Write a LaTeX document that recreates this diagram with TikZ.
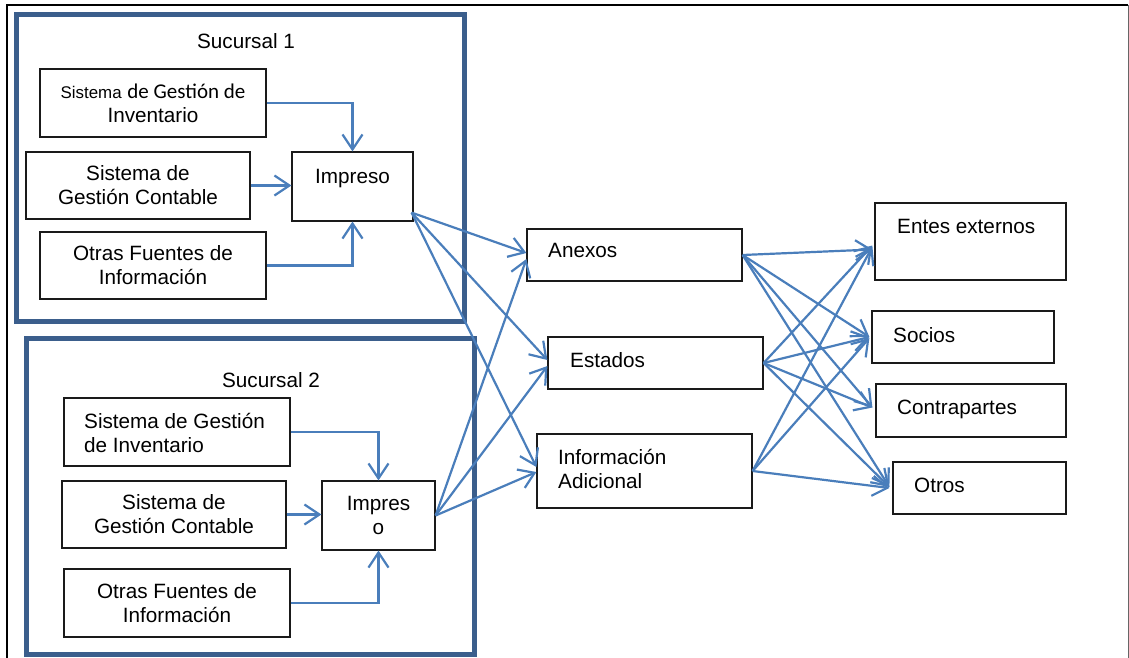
\documentclass[tikz,border=0pt]{standalone}
\usepackage{fontspec}
\setmainfont{Liberation Sans}
\newfontfamily\calib{Carlito}
\usetikzlibrary{arrows.meta,calc}
\definecolor{linkblue}{HTML}{4A7EBB}
\definecolor{branchblue}{HTML}{3B5E8C}
\definecolor{boxline}{HTML}{1A1A1A}
\begin{document}
\begin{tikzpicture}[x=1pt,y=-1pt,
  txt/.style={inner sep=0pt,font=\fontsize{20.7}{24}\selectfont},
  box/.style={draw=boxline,line width=1.2pt,inner sep=0pt,align=center,
    font=\fontsize{20.7}{24}\selectfont},
  branch/.style={draw=branchblue,line width=5pt},
  conn/.style={draw=linkblue,line width=2.2pt,
    -{Straight Barb[length=15pt,width=20pt,line width=2.2pt]}}]
\useasboundingbox (0,0) rectangle (1129,657);

% page frame
\draw[black,line width=2pt] (7,660) -- (7,5) -- (1128,5);
\draw[black!60,line width=1pt] (1128,5) -- (1128,660);

% branch frames
\draw[branch] (16,14) rectangle (464,321);
\draw[branch] (26,338) rectangle (474,654);
\node[txt,anchor=base] (t1) at (246,48) {Sucursal 1};
\node[txt,anchor=base] (t2) at (271,387) {Sucursal 2};

% branch 1 sources
\node[box,minimum width=226pt,minimum height=68pt] (a1) at (153,103)
  {{\fontsize{16.9}{24}\selectfont Sistema} {\calib\fontsize{21}{24}\selectfont de Gestión de}\\Inventario};
\node[box,minimum width=224pt,minimum height=67pt] (b1) at (138,185.5)
  {Sistema de\\Gestión Contable};
\node[box,minimum width=226pt,minimum height=67pt] (c1) at (153,265.5)
  {Otras Fuentes de\\Información};
\node[box,minimum width=121pt,minimum height=69pt] (imp1) at (352.5,186.5) {};
\node[txt,anchor=base] (imp1t) at (352.5,183) {Impreso};

% branch 2 sources
\node[box,minimum width=226pt,minimum height=68pt] (a2) at (177,432) {};
\node[txt,align=left,anchor=west] (a2t) at (84,433) {Sistema de Gestión\\de Inventario};
\node[box,minimum width=224pt,minimum height=67pt] (b2) at (174,514.5)
  {Sistema de\\Gestión Contable};
\node[box,minimum width=226pt,minimum height=68pt] (c2) at (177,603)
  {Otras Fuentes de\\Información};
\node[box,minimum width=113pt,minimum height=69pt] (imp2) at (378.5,515.5)
  {Impres\\o};

% reports
\node[box,minimum width=215pt,minimum height=52pt] (anx) at (634.5,255) {};
\node[txt,anchor=base west] (anxt) at (548,257) {Anexos};
\node[box,minimum width=215pt,minimum height=52pt] (est) at (655.5,363) {};
\node[txt,anchor=base west] (estt) at (570,367) {Estados};
\node[box,minimum width=215pt,minimum height=74pt] (inf) at (644.5,471) {};
\node[txt,align=left,anchor=west] (inft) at (558,469) {Información\\Adicional};

% recipients
\node[box,minimum width=191pt,minimum height=77pt] (ent) at (970.5,241.5) {};
\node[txt,anchor=base west] (entt) at (897,233) {Entes externos};
\node[box,minimum width=182pt,minimum height=52pt] (soc) at (963,337) {};
\node[txt,anchor=base west] (soct) at (893,342) {Socios};
\node[box,minimum width=190pt,minimum height=53pt] (con) at (971,410.5) {};
\node[txt,anchor=base west] (cont) at (897,414) {Contrapartes};
\node[box,minimum width=173pt,minimum height=52pt] (otr) at (979.5,488) {};
\node[txt,anchor=base west] (otrt) at (914,492) {Otros};

% feeds into each printout
\draw[conn] (a1.east) -| (imp1.north);
\draw[conn] (b1.east) -- (b1.east -| imp1.west);
\draw[conn] (c1.east) -| (imp1.south);
\draw[conn] (a2.east) -| (imp2.north);
\draw[conn] (b2.east) -- (b2.east -| imp2.west);
\draw[conn] (c2.east) -| (imp2.south);

% printouts to reports
\coordinate (p1) at ([xshift=-2pt,yshift=9pt]imp1.south east);
\coordinate (p2) at (imp2.east);
\draw[conn] (p1) -- ([yshift=2pt]anx.west);
\draw[conn] (p1) -- ([yshift=3pt]est.west);
\draw[conn] (p1) -- ([yshift=4pt]inf.west);
\draw[conn] (p2) -- ([yshift=-4pt]anx.west);
\draw[conn] (p2) -- ([yshift=-3pt]est.west);
\draw[conn] (p2) -- ([yshift=-1pt]inf.west);

% reports to recipients
\draw[conn] (anx.east) -- ([xshift=-2pt,yshift=-8pt]ent.west);
\draw[conn] (anx.east) -- ([xshift=-2pt]soc.west);
\draw[conn] (anx.east) -- ([xshift=-3pt,yshift=3pt]con.west);
\draw[conn] (anx.east) -- ([xshift=-3pt,yshift=1pt]otr.west);
\draw[conn] (est.east) -- ([xshift=-2pt,yshift=-4pt]ent.west);
\draw[conn] (est.east) -- ([xshift=-2pt]soc.west);
\draw[conn] (est.east) -- ([xshift=-3pt,yshift=3pt]con.west);
\draw[conn] (est.east) -- ([xshift=-3pt,yshift=1pt]otr.west);
\draw[conn] (inf.east) -- ([xshift=-2pt,yshift=-5pt]ent.west);
\draw[conn] (inf.east) -- ([xshift=-2pt,yshift=-1pt]soc.west);
\draw[conn] (inf.east) -- ([xshift=-3pt]otr.west);
\end{tikzpicture}
\end{document}
